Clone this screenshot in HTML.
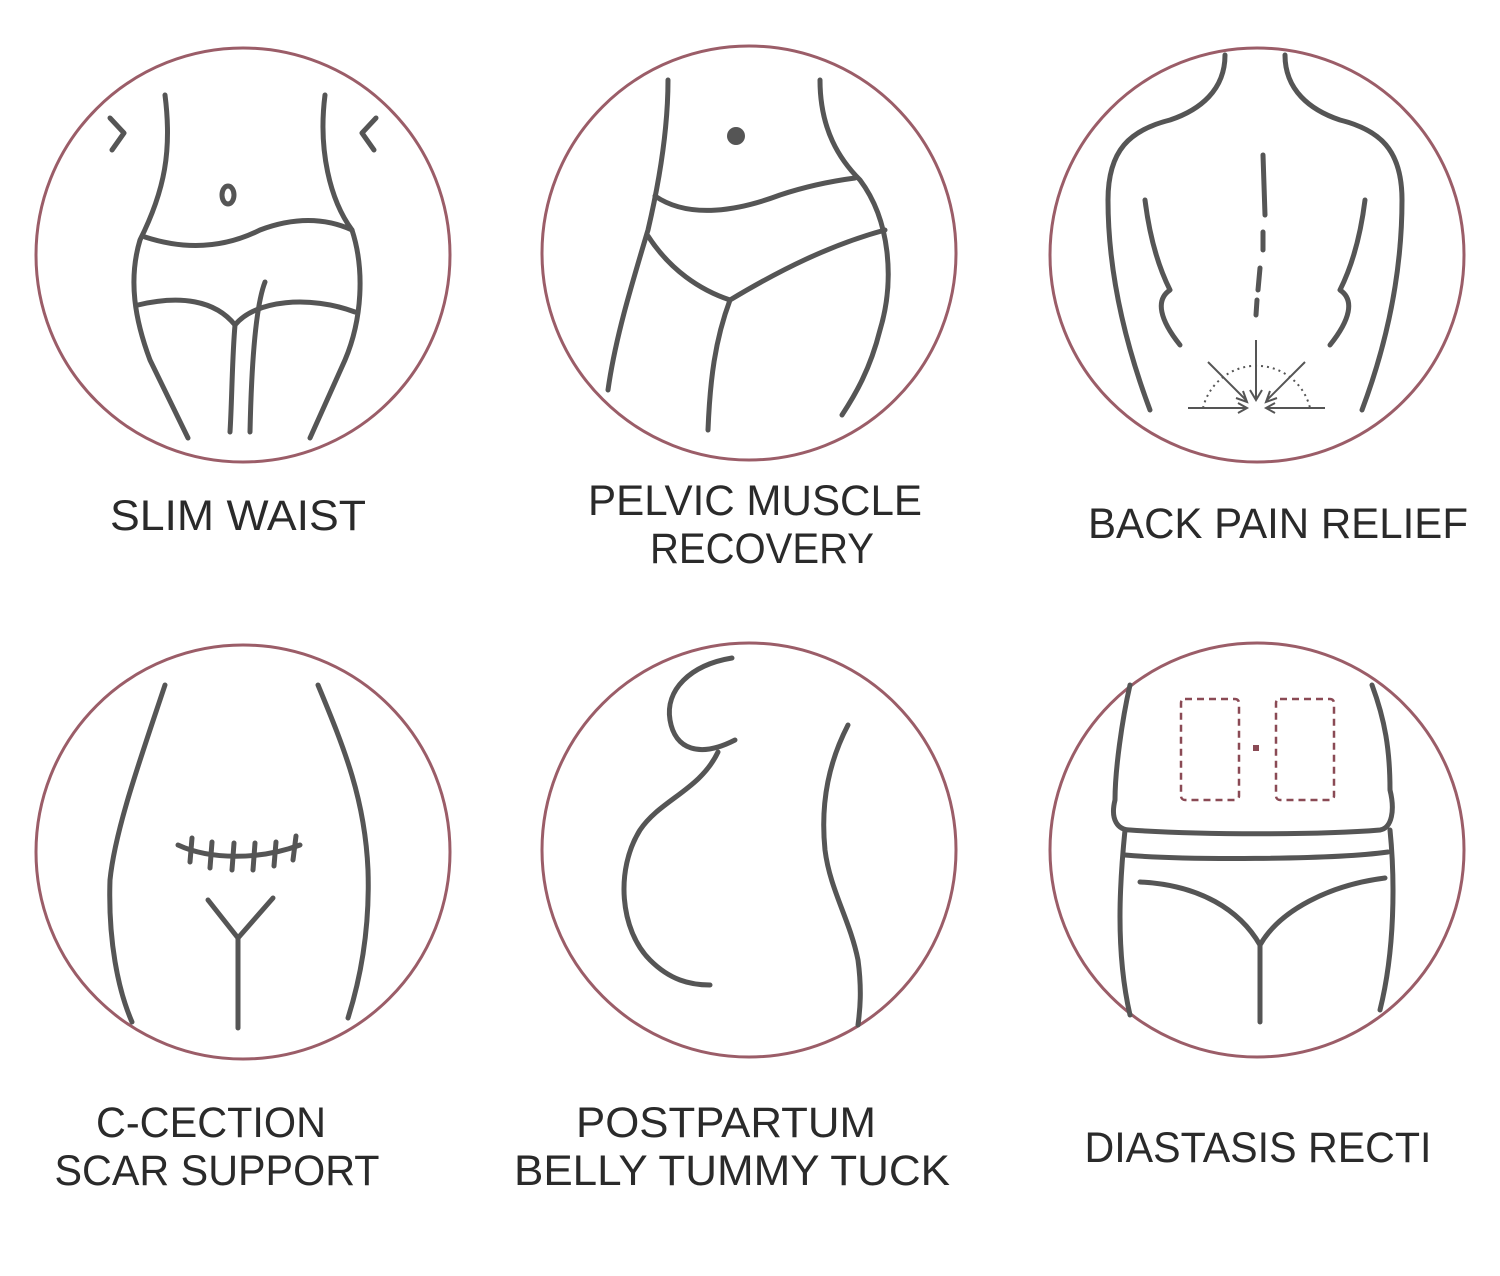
<!DOCTYPE html>
<html><head><meta charset="utf-8"><style>
html,body{margin:0;padding:0;background:#fff;}
svg{display:block;}
text{font-family:"Liberation Sans",sans-serif;font-size:43px;fill:#2a2a2a;text-anchor:middle;}
</style></head><body>
<svg width="1500" height="1276" viewBox="0 0 1500 1276" xmlns="http://www.w3.org/2000/svg">
<g fill="none" stroke="#9b5d68" stroke-width="3">
<circle cx="243" cy="255" r="207"/>
<circle cx="749" cy="253" r="207"/>
<circle cx="1257" cy="255" r="207"/>
<circle cx="243" cy="852" r="207"/>
<circle cx="749" cy="850" r="207"/>
<circle cx="1257" cy="850" r="207"/>
</g>
<g fill="none" stroke="#555" stroke-width="5" stroke-linecap="round" stroke-linejoin="round">
<path d="M110 118 L124 133 L112 150"/>
<path d="M376 118 L362 133 L374 150"/>
<path d="M165 95 C172 150 165 190 140 240 C128 280 135 320 150 360 L188 438"/>
<path d="M325 95 C318 150 330 200 352 230 C365 270 362 320 345 360 L310 438"/>
<ellipse cx="228" cy="195" rx="6" ry="9"/>
<path d="M145 237 C200 255 240 240 260 230 C300 215 330 220 352 230"/>
<path d="M138 305 C180 295 215 300 235 325 C255 300 310 295 355 312"/>
<path d="M235 325 C232 360 232 400 230 432"/>
<path d="M265 282 C258 300 252 340 250 432"/>
<circle cx="736" cy="136" r="9" fill="#555" stroke="none"/>
<path d="M668 80 C668 120 662 170 648 230 C630 290 615 340 608 390"/>
<path d="M820 80 C820 130 840 160 860 180 C890 220 895 280 880 330 C870 370 855 395 842 415"/>
<path d="M655 196 C690 220 740 210 780 195 C810 185 840 180 855 178"/>
<path d="M648 236 C670 270 700 290 730 300 C780 270 830 245 885 230"/>
<path d="M730 300 C715 340 710 380 708 430"/>
<path d="M1225 55 C1225 90 1200 110 1170 120 C1130 130 1108 150 1108 200 C1108 260 1120 330 1150 410"/>
<path d="M1285 55 C1285 90 1310 110 1340 120 C1380 130 1402 150 1402 200 C1402 260 1392 330 1362 410"/>
<path d="M1145 200 C1150 240 1160 270 1170 290 C1155 300 1160 320 1180 345"/>
<path d="M1365 200 C1360 240 1350 270 1340 290 C1355 300 1350 320 1330 345"/>
<path d="M1263 155 L1265 215 M1263 232 L1263 250 M1260 268 L1258 290 M1257 300 L1256 315"/>
</g>
<g fill="none" stroke="#555" stroke-width="2">
<path d="M1203 408 A55 55 0 0 1 1310 408" stroke-dasharray="2 4"/>
<path d="M1256 340 L1256 398 M1250 390 L1256 400 L1262 390"/>
<path d="M1208 362 L1246 400 M1236 398 L1247 402 L1243 391"/>
<path d="M1305 362 L1267 400 M1277 398 L1266 402 L1270 391"/>
<path d="M1188 408 L1246 408 M1238 403 L1247 408 L1238 413"/>
<path d="M1325 408 L1267 408 M1275 403 L1266 408 L1275 413"/>
</g>
<g fill="none" stroke="#555" stroke-width="5" stroke-linecap="round" stroke-linejoin="round">
<path d="M165 685 C140 760 115 830 110 880 C108 940 118 990 132 1022"/>
<path d="M318 685 C345 750 365 800 368 870 C370 930 360 980 348 1018"/>
<path d="M178 845 C210 860 260 860 300 845"/>
<path d="M192 838 L190 862 M212 842 L210 868 M234 843 L232 870 M255 843 L253 870 M276 842 L274 866 M296 836 L293 860"/>
<path d="M208 900 L238 938 L273 898 M238 938 L238 1028"/>
<path d="M732 658 C690 665 665 690 670 720 C675 750 700 758 735 740"/>
<path d="M718 752 C700 790 660 800 640 830 C615 870 620 930 650 960 C670 980 690 985 710 985"/>
<path d="M848 725 C830 760 820 800 825 850 C830 890 850 920 858 960 C862 990 860 1010 858 1025"/>
<path d="M1130 685 C1122 720 1115 770 1115 800 C1110 820 1118 830 1130 830 C1200 835 1320 835 1380 830 C1392 828 1395 810 1390 790 C1390 750 1385 720 1372 685"/>
<path d="M1125 855 C1180 860 1330 860 1388 852"/>
<path d="M1125 830 C1120 880 1115 950 1130 1015"/>
<path d="M1390 830 C1395 880 1395 950 1380 1010"/>
<path d="M1140 882 C1200 885 1240 910 1260 945 C1280 910 1330 885 1385 878"/>
<path d="M1260 945 L1260 1022"/>
</g>
<g fill="none" stroke="#8a4a55" stroke-width="2.5" stroke-dasharray="7 5">
<rect x="1181" y="699" width="58" height="101" rx="4"/>
<rect x="1276" y="699" width="58" height="101" rx="4"/>
</g>
<rect x="1253" y="745" width="6" height="6" fill="#8a4a55"/>
<text x="238" y="530" textLength="256" lengthAdjust="spacingAndGlyphs">SLIM WAIST</text>
<text x="755" y="515" textLength="334" lengthAdjust="spacingAndGlyphs">PELVIC MUSCLE</text>
<text x="762" y="563" textLength="224" lengthAdjust="spacingAndGlyphs">RECOVERY</text>
<text x="1278" y="538" textLength="380" lengthAdjust="spacingAndGlyphs">BACK PAIN RELIEF</text>
<text x="211" y="1137" textLength="230" lengthAdjust="spacingAndGlyphs">C-CECTION</text>
<text x="217" y="1185" textLength="325" lengthAdjust="spacingAndGlyphs">SCAR SUPPORT</text>
<text x="726" y="1137" textLength="300" lengthAdjust="spacingAndGlyphs">POSTPARTUM</text>
<text x="732" y="1185" textLength="436" lengthAdjust="spacingAndGlyphs">BELLY TUMMY TUCK</text>
<text x="1258" y="1162" textLength="347" lengthAdjust="spacingAndGlyphs">DIASTASIS RECTI</text>
</svg>
</body></html>
